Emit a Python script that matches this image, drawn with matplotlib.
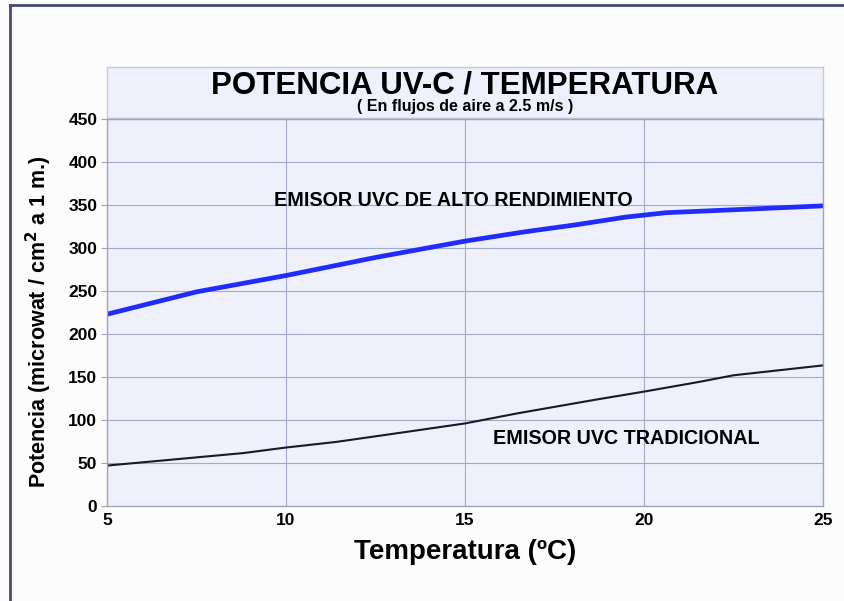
import matplotlib
matplotlib.use("Agg")
import matplotlib.pyplot as plt
from matplotlib.lines import Line2D

# Data
temp_hi = [5, 7.5, 10, 12.5, 15, 16.7, 18.1, 19.5, 20.6, 25]
pot_hi = [223, 249, 268, 289, 308, 319, 327, 336, 341, 349]
temp_tr = [5, 8.8, 10, 11.4, 13, 15, 16.5, 18.7, 20, 21.5, 22.5, 25]
pot_tr = [47, 61.5, 68, 74.5, 84, 96, 108, 124, 133, 144, 152, 163.5]
xticks = [5, 10, 15, 20, 25]
yticks = [0, 50, 100, 150, 200, 250, 300, 350, 400, 450]

FONT = ["Liberation Sans", "DejaVu Sans"]
plt.rcParams['font.family'] = FONT
plt.rcParams['font.weight'] = 'bold'

fig = plt.figure(figsize=(8.44, 6.01), dpi=100)
fig.patch.set_facecolor('#fdfcfd')

W, H = 844, 601
def fx(px):
    return px / W
def fy(py):
    return 1 - py / H

# outer frame lines
fig.add_artist(Line2D([fx(10), fx(10)], [fy(5), 0], color='#454a78', lw=2.0))
fig.add_artist(Line2D([fx(10), 1], [fy(5), fy(5)], color='#454a78', lw=2.0))

bg = '#eef0fb'
# title box
tb = fig.add_axes([fx(107), fy(118), fx(823) - fx(107), fy(67) - fy(118)])
tb.set_facecolor(bg)
tb.set_xticks([]); tb.set_yticks([])
for s in tb.spines.values():
    s.set_color('#c5c9dc'); s.set_linewidth(1)
tb.text(0.5, 0.64, "POTENCIA UV-C / TEMPERATURA", ha='center', va='center',
        fontsize=22.5, fontweight='bold', transform=tb.transAxes)
tb.text(0.5, 0.22, "( En flujos de aire a 2.5 m/s )", ha='center', va='center',
        fontsize=11.5, fontweight='bold', transform=tb.transAxes)

ax = fig.add_axes([fx(107), fy(506), fx(823) - fx(107), fy(119) - fy(506)])
ax.set_facecolor(bg)
ax.set_xlim(5, 25)
ax.set_ylim(0, 450)
ax.set_xticks(xticks)
ax.set_yticks(yticks)
ax.grid(True, color='#a3abc9', lw=0.8)
ax.set_axisbelow(True)
for s in ax.spines.values():
    s.set_color('#a0a4b8'); s.set_linewidth(1)
ax.tick_params(axis='y', length=4, color='#a0a4b8', labelsize=12.5, pad=3)
ax.tick_params(axis='x', length=0, labelsize=12.5, pad=5)
for lab in ax.get_xticklabels() + ax.get_yticklabels():
    lab.set_fontweight('bold')

ax.plot(temp_hi, pot_hi, color='#1f2bff', lw=3.4, solid_capstyle='butt')
ax.plot(temp_tr, pot_tr, color='#1a1a22', lw=1.5)

ax.text(14.68, 355, "EMISOR UVC DE ALTO RENDIMIENTO", ha='center', va='center',
        fontsize=14.2, fontweight='bold')
ax.text(19.5, 79, "EMISOR UVC TRADICIONAL", ha='center', va='center',
        fontsize=14.2, fontweight='bold')

ax.set_xlabel("Temperatura (ºC)", fontsize=20, fontweight='bold', labelpad=8)
ax.set_ylabel("Potencia (microwat / cm$^\\mathbf{2}$ a 1 m.)", fontsize=15.5, fontweight='bold')
ax.yaxis.set_label_coords(-0.074, 0.477)

fig.savefig("out.png", dpi=100, facecolor=fig.get_facecolor())
